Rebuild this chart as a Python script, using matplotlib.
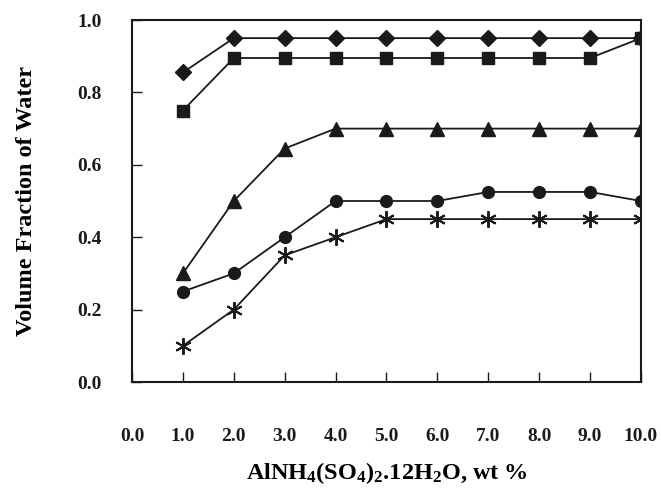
import matplotlib
matplotlib.use("Agg")
import matplotlib.pyplot as plt

plt.rcParams['font.family'] = ['Liberation Serif', 'DejaVu Serif']
plt.rcParams['font.weight'] = 'bold'
plt.rcParams['mathtext.fontset'] = 'custom'
plt.rcParams['mathtext.rm'] = 'Liberation Serif:bold'
plt.rcParams['mathtext.it'] = 'Liberation Serif:bold'
plt.rcParams['mathtext.bf'] = 'Liberation Serif:bold'
plt.rcParams['mathtext.default'] = 'rm'

x = [1, 2, 3, 4, 5, 6, 7, 8, 9, 10]
diamond = [0.855, 0.95, 0.95, 0.95, 0.95, 0.95, 0.95, 0.95, 0.95, 0.95]
square = [0.75, 0.895, 0.895, 0.895, 0.895, 0.895, 0.895, 0.895, 0.895, 0.95]
triangle = [0.30, 0.50, 0.645, 0.70, 0.70, 0.70, 0.70, 0.70, 0.70, 0.70]
circle = [0.25, 0.30, 0.40, 0.50, 0.50, 0.50, 0.525, 0.525, 0.525, 0.50]
asterisk = [0.10, 0.20, 0.35, 0.40, 0.45, 0.45, 0.45, 0.45, 0.45, 0.45]

xticks = [0, 1, 2, 3, 4, 5, 6, 7, 8, 9, 10]
xticklabels = ['0.0', '1.0', '2.0', '3.0', '4.0', '5.0', '6.0', '7.0', '8.0', '9.0', '10.0']
yticks = [0.0, 0.2, 0.4, 0.6, 0.8, 1.0]
yticklabels = ['0.0', '0.2', '0.4', '0.6', '0.8', '1.0']

fig = plt.figure(figsize=(6.61, 4.88), dpi=100)
ax = fig.add_axes([0.1997, 0.2172, 0.7700, 0.7418])

c = '#1a1a1a'
lw = 1.3
ax.plot(x, diamond, color=c, lw=lw, marker='D', ms=8, zorder=3)
ax.plot(x, square, color=c, lw=lw, marker='s', ms=8.5, zorder=3)
ax.plot(x, triangle, color=c, lw=lw, marker='^', ms=9.5, zorder=3)
ax.plot(x, circle, color=c, lw=lw, marker='o', ms=8.5, zorder=3)
ax.plot(x, asterisk, color=c, lw=lw, marker=(6, 2, 0), ms=12, mew=1.4, zorder=3)

ax.set_xlim(0, 10)
ax.set_ylim(0, 1.0)
ax.set_xticks(xticks)
ax.set_xticklabels(xticklabels)
ax.set_yticks(yticks)
ax.set_yticklabels(yticklabels)

ax.tick_params(axis='both', direction='in', length=7, width=1.0, colors=c, labelsize=14)
ax.tick_params(axis='x', pad=33)
ax.tick_params(axis='y', pad=22)
for s in ax.spines.values():
    s.set_linewidth(1.5)
    s.set_color(c)

ax.set_xlabel('AlNH$_4$(SO$_4$)$_2$.12H$_2$O, wt %', fontsize=17.5, fontweight='bold', labelpad=11)
ax.set_ylabel('Volume Fraction of Water', fontsize=17.5, fontweight='bold', labelpad=29)

fig.savefig('out.png', dpi=100)
